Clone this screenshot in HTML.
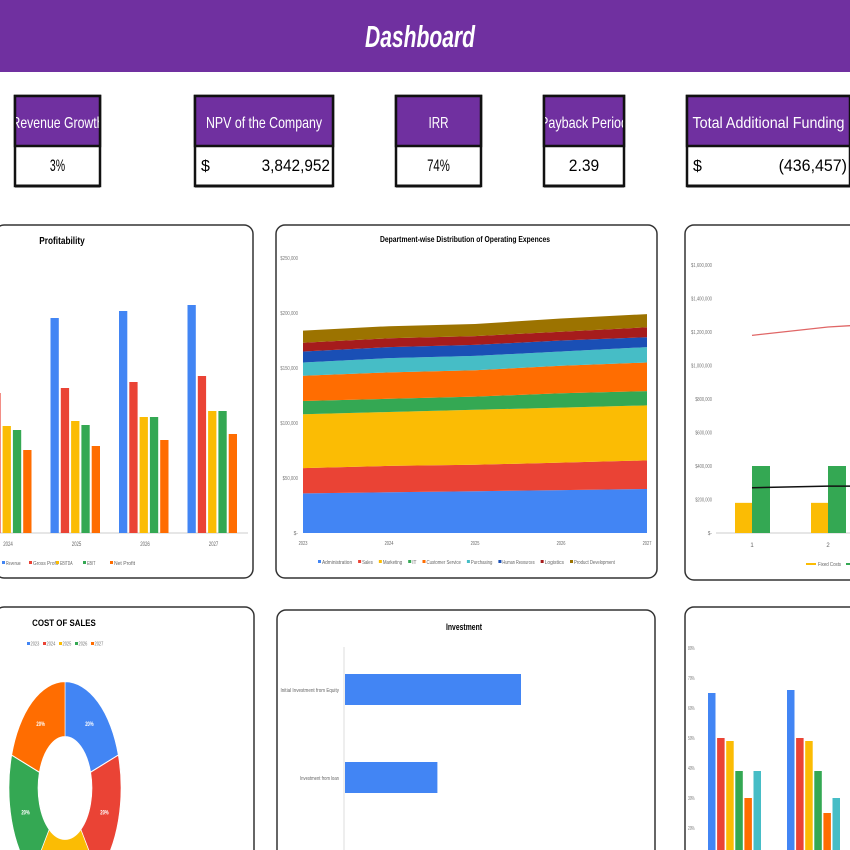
<!DOCTYPE html>
<html><head><meta charset="utf-8"><style>
html,body{margin:0;padding:0;background:#fff;width:850px;height:850px;overflow:hidden}
svg{display:block;font-family:"Liberation Sans Narrow","Liberation Sans",sans-serif;overflow:hidden}
</style></head><body>
<svg id="s" width="850" height="850" viewBox="0 0 850 850">
<rect x="0" y="0" width="850" height="72" fill="#7030a0"/>
<text x="420" y="47" fill="#fff" font-size="31" font-weight="bold" font-style="italic" text-anchor="middle" textLength="110" lengthAdjust="spacingAndGlyphs">Dashboard</text>
<g id="kpis"></g>
<g id="panels"></g>
<g id="c1"></g><g id="c2"></g><g id="c3"></g><g id="c4"></g><g id="c5"></g><g id="c6"></g>
</svg>
<script>
// KPI data
const kpiTitles=["Revenue Growth","NPV of the Company","IRR","Payback Period","Total Additional Funding"];
const kpiValues=["3%","3,842,952","74%","2.39","(436,457)"];
const kpiDollar=[false,true,false,false,true];
// Profitability
const profYears=["2024","2025","2026","2027"];
const profSeries=["Revenue","Gross Profit","EBITDA","EBIT","Net Profit"];
const revenue=[205,215,222,228];
const grossProfit=[140,145,151,157];
const ebitda=[107,112,116,122];
const ebit=[103,108,116,122];
const netProfit=[83,87,93,99];
// Opex
const opexYears=["2023","2024","2025","2026","2027"];
const opexDepts=["Administration","Sales","Marketing","IT","Customer Service","Purchasing","Human Resources","Logistics","Product Development"];
const admin=[36,37,38,39,40];
const sales=[23,24,24,25,26];
const marketing=[49,49,50,50,50];
const itDept=[12,12,12,13,13];
const custService=[23,24,24,25,26];
const purchasing=[12,13,13,13,14];
const hr=[10,10,10,10,9];
const logistics=[8,8,8,8,9];
const productDev=[11,11,11,12,12];
const opexTicks=["$-","$50,000","$100,000","$150,000","$200,000","$250,000"];
// Break-even
const beCats=["1","2"];
const fixedCosts=[180000,180000];
const greenBars=[400000,400000];
const redLine=[1180000,1230000];
const blackLine=[270000,280000];
const beTicks=["$-","$200,000","$400,000","$600,000","$800,000","$1,000,000","$1,200,000","$1,400,000","$1,600,000"];
// Cost of sales
const cosYears=["2023","2024","2025","2026","2027"];
const cosShares=[20,20,20,20,20];
// Investment
const invCats=["Initial Investment from Equity","Investment from loan"];
const invValues=[600000,315000];
// Margins
const marCats=["1","2"];
const marA=[65,66];const marB=[50,50];const marC=[49,49];const marD=[39,39];const marE=[30,25];const marF=[39,30];
const marTicks=["20%","30%","40%","50%","60%","70%","80%"];

const NS="http://www.w3.org/2000/svg";
function mk(p,tag,at,txt){const e=document.createElementNS(NS,tag);for(const k in at)e.setAttribute(k,at[k]);if(txt!==undefined)e.textContent=txt;p.appendChild(e);return e;}
function nt(p,at,txt,f){at.textLength=Math.max(4,txt.length*f);at.lengthAdjust='spacingAndGlyphs';return mk(p,'text',at,txt);}
const C={blue:"#4285f4",red:"#ea4335",yellow:"#fbbc04",green:"#34a853",orange:"#ff6d01",cyan:"#46bdc6",navy:"#1a4fb5",maroon:"#a61c1c",olive:"#9c7300"};

// KPIs
const kx=[15,195,396,544,687],kw=[85,138,85,80,163];
const tl=[92,116,20,88,152];
const K=document.getElementById('kpis');
kpiTitles.forEach((t,i)=>{
 const g=mk(K,'g',{});
 
 
 mk(g,'rect',{x:kx[i],y:96,width:kw[i],height:90,fill:'#fff',stroke:'#111','stroke-width':2.5});
 mk(g,'rect',{x:kx[i],y:96,width:kw[i],height:50,fill:'#7030a0',stroke:'#111','stroke-width':2.5});
 const cp=mk(g,'clipPath',{id:'kc'+i});mk(cp,'rect',{x:kx[i]+1,y:96,width:kw[i]-2,height:50});
 const tt=mk(g,'text',{x:kx[i]+kw[i]/2,y:128,fill:'#fff','font-size':16,'text-anchor':'middle','clip-path':'url(#kc'+i+')',textLength:tl[i],lengthAdjust:'spacingAndGlyphs'},t);
 
 
 if(kpiDollar[i]){mk(g,'text',{x:kx[i]+6,y:171,'font-size':16,fill:'#000'},'$');
  const v=nt(g,{x:kx[i]+kw[i]-3,y:171,'font-size':17,'text-anchor':'end',fill:'#000'},kpiValues[i],7.6);
  }
 else{const v=nt(g,{x:kx[i]+kw[i]/2,y:171,'font-size':17,'text-anchor':'middle',fill:'#000'},kpiValues[i],7.6);
  }
 mk(g,'line',{x1:kx[i],y1:186,x2:kx[i]+kw[i],y2:186,stroke:'#111','stroke-width':3});
});
// Panels
const P=document.getElementById('panels');
[[-5,225,258,353],[276,225,381,353],[685,225,180,355],[-5,607,259,260],[277,610,378,260],[685,607,180,260]].forEach(r=>{
 const e=mk(P,'rect',{x:r[0],y:r[1],width:r[2],height:r[3],rx:9,fill:'#fff',stroke:'#333','stroke-width':1.5});
 
});

// Chart 1 Profitability
(function(){
 const g=document.getElementById('c1');const base=533;
 const y=v=>base-v;const cx=i=>8+i*68.5;
 nt(g,{x:62,y:244,'font-size':10,'font-weight':'bold','text-anchor':'middle'},'Profitability',3.5);
 mk(g,'line',{x1:0,y1:base,x2:248,y2:base,stroke:'#ccc'});
 const series=[revenue,grossProfit,ebitda,ebit,netProfit],cols=[C.blue,C.red,C.yellow,C.green,C.orange];
 profYears.forEach((yr,i)=>{
  series.forEach((s,j)=>{const b=mk(g,'rect',{x:cx(i)-26+j*10.3,y:y(s[i]),width:8.3,height:s[i],fill:cols[j]});
   });
  nt(g,{x:cx(i),y:546,'font-size':6,fill:'#666','text-anchor':'middle'},yr,2.4);
 });
 profSeries.forEach((n,j)=>{const lx=2+j*27;mk(g,'rect',{x:lx,y:561,width:3,height:3,fill:cols[j]});
  nt(g,{x:lx+4,y:565,'font-size':5.5,fill:'#666'},n,2.1);});
})();

// Chart 2 Opex
(function(){
 const g=document.getElementById('c2');const base=533,x0=303,x1=647;
 const y=v=>base-v*55/50;const x=i=>x0+i*(x1-x0)/4;
 nt(g,{x:465,y:242,'font-size':8.5,'font-weight':'bold','text-anchor':'middle'},'Department-wise Distribution of Operating Expences',3.4);
 opexTicks.forEach((t,i)=>nt(g,{x:298,y:base-i*55+2,'font-size':5.5,fill:'#777','text-anchor':'end'},t,2.2));
 const series=[admin,sales,marketing,itDept,custService,purchasing,hr,logistics,productDev];
 const cols=[C.blue,C.red,C.yellow,C.green,C.orange,C.cyan,C.navy,C.maroon,C.olive];
 const cum=opexYears.map(()=>0);
 series.forEach((s,j)=>{
  const lo=cum.slice();s.forEach((v,i)=>cum[i]+=v);
  let d='';cum.forEach((v,i)=>d+=(i?'L':'M')+x(i)+','+y(v));
  for(let i=lo.length-1;i>=0;i--)d+='L'+x(i)+','+y(lo[i]);
  const a=mk(g,'path',{d:d+'Z',fill:cols[j]});
  
 });
 opexYears.forEach((t,i)=>nt(g,{x:x(i),y:545,'font-size':5.5,fill:'#666','text-anchor':'middle'},t,2.2));
 let lx=318;opexDepts.forEach((n,j)=>{mk(g,'rect',{x:lx,y:560,width:3,height:3,fill:cols[j]});
  nt(g,{x:lx+4,y:564,'font-size':5.5,fill:'#666'},n,2.15);lx+=n.length*2.15+10;});
})();

// Chart 3 Break-even
(function(){
 const g=document.getElementById('c3');const base=533;
 const y=v=>base-v*33.5/200000;const cx=i=>752+i*76;
 beTicks.forEach((t,i)=>nt(g,{x:712,y:base-i*33.5+2,'font-size':5.5,fill:'#777','text-anchor':'end'},t,2.1));
 mk(g,'line',{x1:716,y1:base,x2:850,y2:base,stroke:'#ccc'});
 beCats.forEach((c,i)=>{
  const a=mk(g,'rect',{x:cx(i)-17,y:y(fixedCosts[i]),width:17,height:base-y(fixedCosts[i]),fill:C.yellow});
  
  const b=mk(g,'rect',{x:cx(i),y:y(greenBars[i]),width:18,height:base-y(greenBars[i]),fill:C.green});
  
  mk(g,'text',{x:cx(i),y:547,'font-size':6,fill:'#666','text-anchor':'middle'},c);
 });
 const rl=mk(g,'polyline',{points:redLine.map((v,i)=>cx(i)+','+y(v)).join(' ')+' 870,'+(y(redLine[1])-2.5),fill:'none',stroke:'#e06666','stroke-width':1.3});
 
 const bl=mk(g,'polyline',{points:blackLine.map((v,i)=>cx(i)+','+y(v)).join(' ')+' 870,'+y(blackLine[1]),fill:'none',stroke:'#111','stroke-width':1.5});
 
 mk(g,'rect',{x:806,y:563,width:10,height:2,fill:C.yellow});
 nt(g,{x:818,y:566,'font-size':5.5,fill:'#666'},'Fixed Costs',2.1);
 mk(g,'rect',{x:846,y:563,width:4,height:2,fill:C.green});
})();

// Chart 4 Cost of Sales donut
(function(){
 const g=document.getElementById('c4');
 nt(g,{x:64,y:626,'font-size':9,'font-weight':'bold','text-anchor':'middle'},'COST OF SALES',4.9);
 const cols=[C.blue,C.red,C.yellow,C.green,C.orange];
 cosYears.forEach((t,i)=>{const lx=27+i*16;mk(g,'rect',{x:lx,y:642,width:3,height:3,fill:cols[i]});
  nt(g,{x:lx+3.5,y:645.5,'font-size':5,fill:'#777'},t,2.2);});
 const gg=mk(g,'g',{transform:'translate(65,788) scale(1,1.9)'});
 const tot=cosShares.reduce((a,b)=>a+b,0);let a0=-Math.PI/2;const R=56,r=27;
 cosShares.forEach((v,i)=>{
  const a1=a0+v/tot*2*Math.PI;const lg=(a1-a0)>Math.PI?1:0;
  const p=(rr,a)=>(rr*Math.cos(a)).toFixed(2)+','+(rr*Math.sin(a)).toFixed(2);
  const s=mk(gg,'path',{d:'M'+p(R,a0)+'A'+R+','+R+' 0 '+lg+' 1 '+p(R,a1)+'L'+p(r,a1)+'A'+r+','+r+' 0 '+lg+' 0 '+p(r,a0)+'Z',fill:cols[i],stroke:'#fff','stroke-width':0.6});
  
  const am=(a0+a1)/2,lr=(R+r)/2;
  nt(g,{x:65+lr*Math.cos(am),y:788+lr*Math.sin(am)*1.9+2,'font-size':6,'font-weight':'bold',fill:'#fff','text-anchor':'middle'},v+'%',2.8);
  a0=a1;
 });
})();

// Chart 5 Investment
(function(){
 const g=document.getElementById('c5');const x0=345;const sx=v=>v*176/600000;
 nt(g,{x:464,y:630,'font-size':9,'font-weight':'bold','text-anchor':'middle'},'Investment',3.6);
 mk(g,'line',{x1:344,y1:647,x2:344,y2:850,stroke:'#ddd'});
 invCats.forEach((c,i)=>{const yy=674+i*88;
  const b=mk(g,'rect',{x:x0,y:yy,width:sx(invValues[i]),height:31,fill:C.blue});
  
  nt(g,{x:339,y:yy+18,'font-size':5.5,fill:'#666','text-anchor':'end'},c,1.95);});
})();

// Chart 6 Margins
(function(){
 const g=document.getElementById('c6');const y=v=>888-v*3;
 marTicks.forEach(t=>nt(g,{x:688,y:y(parseInt(t))+2,'font-size':5.5,fill:'#777'},t,2.2));
 const series=[marA,marB,marC,marD,marE,marF],cols=[C.blue,C.red,C.yellow,C.green,C.orange,C.cyan];
 marCats.forEach((c,i)=>series.forEach((s,j)=>{
  const b=mk(g,'rect',{x:708+i*79+j*9.1,y:y(s[i]),width:7.5,height:850-y(s[i]),fill:cols[j]});
  }));
})();
</script>
</body></html>
